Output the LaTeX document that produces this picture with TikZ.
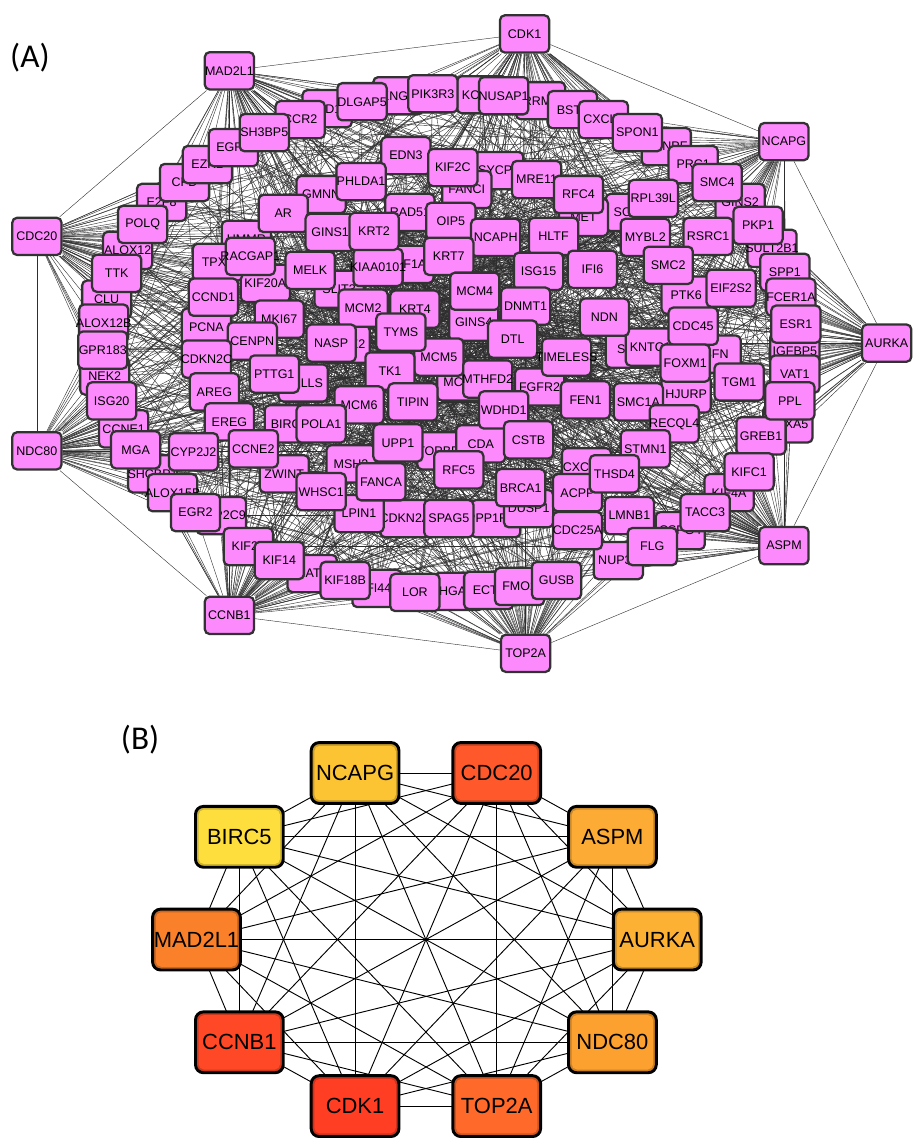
\documentclass[tikz,border=0pt]{standalone}
\usepackage{fontspec}
\setmainfont{Liberation Sans}
\newfontfamily\panelfont{Carlito}
\pgfdeclarelayer{paper}
\pgfdeclarelayer{edges}
\pgfsetlayers{paper,edges,main}
\definecolor{genepink}{RGB}{252,138,252}
\definecolor{geneline}{RGB}{50,50,50}
\definecolor{cNCAPG}{RGB}{252,196,50}
\definecolor{cCDC20}{RGB}{255,88,42}
\definecolor{cBIRC5}{RGB}{254,222,60}
\definecolor{cASPM}{RGB}{252,172,52}
\definecolor{cAURKA}{RGB}{252,176,52}
\definecolor{cMAD2L1}{RGB}{250,128,42}
\definecolor{cCCNB1}{RGB}{255,72,38}
\definecolor{cNDC80}{RGB}{252,160,48}
\definecolor{cCDK1}{RGB}{255,62,36}
\definecolor{cTOP2A}{RGB}{255,106,42}
\begin{document}
\begin{tikzpicture}[x=0.75pt,y=-0.75pt,
  gene/.style={rectangle, rounded corners=3.6pt, draw=geneline, line width=1.7pt,
    fill=genepink, minimum width=37pt, minimum height=28pt, inner sep=0pt,
    font=\fontsize{9.4}{10}\selectfont},
  link/.style={draw=black!82, line width=0.3pt},
  core/.style={rectangle, rounded corners=6pt, draw=black, line width=2.2pt,
    minimum width=66pt, minimum height=45.75pt, inner sep=0pt,
    font=\fontsize{16.5}{18}\selectfont, fill=#1!80!black,
    path picture={\fill[#1, rounded corners=4pt]
      ([shift={(2.4pt,2.4pt)}]path picture bounding box.south west) rectangle
      ([shift={(-2.4pt,-2.4pt)}]path picture bounding box.north east);}},
  corelink/.style={draw=black, line width=0.7pt},
  panel/.style={font=\panelfont\fontsize{25}{27}\selectfont, anchor=west, inner sep=0pt}]

\begin{pgfonlayer}{paper}
  \useasboundingbox[fill=white] (0,0) rectangle (907,1138);
\end{pgfonlayer}

% ---------- panel (A): the full interaction network ----------
\node[panel] (labA) at (10,58) {(A)};

% inner genes, drawn back to front; each also gets a weight that grows
% towards the middle of the cloud, where the interactions are densest
\foreach \g/\px/\py [count=\k] in {
  NID1/328/109, CCR2/301/120, KNG1/399/96, KCNJ8/483/95, RRM2/542/101,
  BST2/574/110, CXCL1/605/120, CENPF/668/147, SYCP2/500/171, RAD51/411/213,
  SOX4/632/213, GINS2/742/203, SULT2B1/774/249, SPP1/787/273, HMMR/247/240,
  KIF20A/266/284, E2F8/162/203, CFD/185/183, EZH2/208/165, EGR1/234/148,
  ALOX12/128/251, CLU/107/300, ALOX12B/104/324, NEK2/105/377, CCNE1/124/430,
  SHCBP1/153/475, ALOX15B/173/494, CYP2C9/222/517, NAT1/313/575, IFI44/378/590,
  ARHGAP11A/460/593, ECT2/490/592, FMO2/521/588, NUP37/620/562, CSPG4/682/532,
  KIF4A/731/494, ANXA5/790/425, SFN/718/355, STIL/632/350, KNTC1/652/348,
  MCM3/463/383, GINS4/475/323, KIF1A/410/265, SLIT3/340/290, POLE2/346/345,
  HELLS/304/384, MSH2/352/465, TOPBP1/443/452, CDA/482/445, CDKN2A/406/520,
  LPIN1/360/515, PPP1R3C/497/520, DUSP1/530/510, CXCL10/588/468, ACPP/579/494,
  TGM1/741/383, IGFBP5/797/352, FCER1A/793/298, PTK6/688/296, MET/585/218,
  FANCI/468/190, MRE11/538/180, KRT4/416/310, MCM5/440/358, KIAA0101/379/268,
  MKI67/280/320, ZWINT/285/475, GREB1/763/437, FGFR2/541/388, HJURP/688/395,
  PCNA/207/328, BIRC5/290/425,
  SH3BP5/265/133, DLGAP5/363/102, PIK3R3/434/94, NUSAP1/505/96, SPON1/639/133,
  PRC1/695/165, SMC4/719/183, RPL39L/655/199, PKP1/760/226, EDN3/407/156,
  GMNN/322/195, PHLDA1/362/182, KIF2C/454/168, RFC4/580/195, OIP5/452/222,
  POLQ/143/225, AR/284/214, GINS1/331/233, KRT2/375/232, NCAPH/497/238,
  HLTF/555/237, MYBL2/647/238, RSRC1/710/237, SMC2/670/266, TTK/117/274,
  TPX2/218/263, RACGAP1/251/257, MELK/311/271, KRT7/450/257, ISG15/540/272,
  IFI6/594/270, EIF2S2/733/289, MCM4/476/292, DNMT1/527/307, CCND1/214/298,
  MCM2/364/309, NDN/606/318, ESR1/798/325, CDC45/695/327, TYMS/402/333,
  DTL/514/340, GPR183/103/351, CENPN/253/342, NASP/332/344, CDKN2C/207/360,
  TIMELESS/568/358, FOXM1/687/364, VAT1/797/375, PTTG1/275/375, TK1/391/372,
  MTHFD2/489/380, AREG/215/393, ISG20/112/402, MCM6/360/406, TIPIN/414/403,
  WDHD1/505/411, FEN1/587/401, SMC1A/640/403, PPL/792/402, EREG/230/423,
  POLA1/322/425, RECQL4/676/425, UPP1/399/444, CSTB/530/441, STMN1/647/450,
  MGA/136/451, CYP2J2/194/453, CCNE2/254/450, RFC5/460/471, THSD4/616/475,
  KIFC1/751/473, FANCA/382/483, BRCA1/522/489, WHSC1/322/493, EGR2/196/514,
  TACC3/707/514, LMNB1/631/517, SPAG5/450/520, CDC25A/579/532, KIF23/249/548,
  FLG/654/548, KIF14/280/562, KIF18B/346/582, LOR/416/594, GUSB/558/582}
{
  \node[gene, alias=i\k] (a-\g) at (\px,\py) {\makebox[0pt]{\g}};
  \pgfmathtruncatemacro\ww{max(18,100*(1-sqrt(((\px-460)/340)^2+((\py-340)/270)^2)))}
  \expandafter\xdef\csname gw\k\endcsname{\ww}
  \xdef\ninner{\k}
}

% hub genes on the outer ring
\foreach \g/\px/\py [count=\k] in {
  CDK1/526/34, NCAPG/786/142, AURKA/889/344, ASPM/786/547, TOP2A/527/655,
  CCNB1/230/617, NDC80/37/452, CDC20/37/237, MAD2L1/230/71}
{
  \node[gene, alias=h\k] (a-\g) at (\px,\py) {\makebox[0pt]{\g}};
}

% ---------- panel (B): the ten hub genes ----------
\node[panel] (labB) at (121,742) {(B)};
\foreach \g/\px/\py/\c [count=\k] in {
  NCAPG/356/775/cNCAPG, CDC20/498/775/cCDC20, ASPM/614/839/cASPM,
  AURKA/659/942/cAURKA, NDC80/614/1045/cNDC80, TOP2A/498/1109/cTOP2A,
  CDK1/356/1109/cCDK1, CCNB1/240/1045/cCCNB1, MAD2L1/197/942/cMAD2L1,
  BIRC5/240/839/cBIRC5}
{
  \node[core=\c, alias=b\k] (b-\g) at (\px,\py) {\makebox[0pt]{\g}};
}

% ---------- connectors, kept beneath the boxes ----------
\begin{pgfonlayer}{edges}
  \pgfmathsetseed{2718}
  % interactions among the inner genes
  \foreach \i in {1,...,\ninner}{
    \foreach \j in {\i,...,\ninner}{
      \ifnum\j>\i\relax
        \pgfmathrandominteger{\rr}{1}{1000}%
        \ifnum\rr<\numexpr\csname gw\i\endcsname*\csname gw\j\endcsname/14+16\relax
          \draw[link] (i\i) -- (i\j);\fi
      \fi}}
  % hub fans into the cloud
  \foreach \h in {1,...,9}{
    \foreach \k in {1,...,\ninner}{
      \pgfmathrandominteger{\rr}{1}{1000}%
      \ifnum\rr<380\relax \draw[link] (h\h) -- (i\k);\fi}}
  % hubs among themselves
  \foreach \h in {1,...,8}{
    \pgfmathtruncatemacro\hn{\h+1}
    \foreach \g in {\hn,...,9}{\draw[link] (h\h) -- (h\g);}}
  % complete graph of panel (B)
  \foreach \p in {1,...,9}{
    \pgfmathtruncatemacro\pn{\p+1}
    \foreach \q in {\pn,...,10}{\draw[corelink] (b\p.center) -- (b\q.center);}}
\end{pgfonlayer}
\end{tikzpicture}
\end{document}
